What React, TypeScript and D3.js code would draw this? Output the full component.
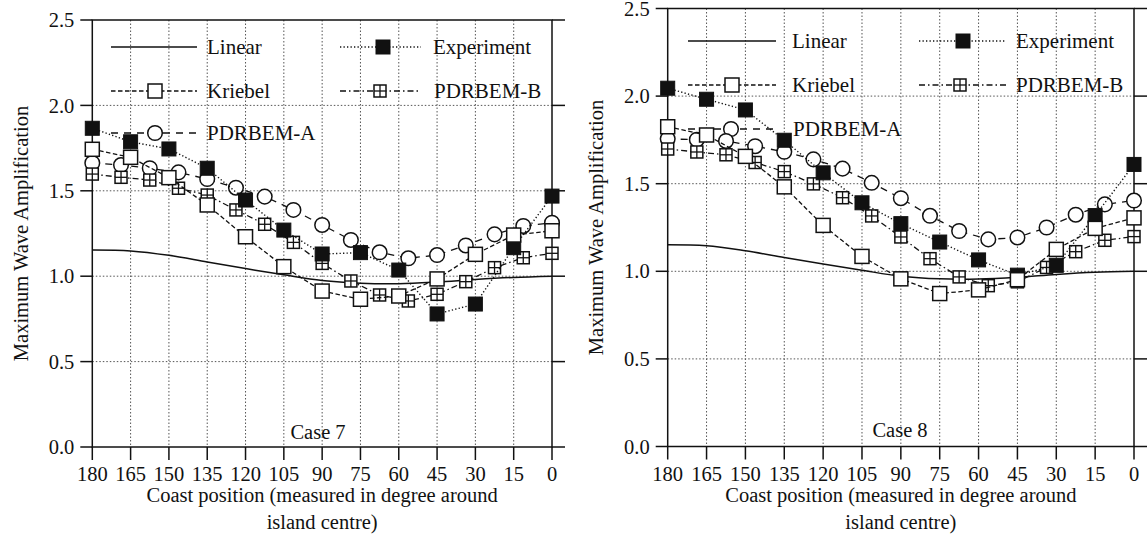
import React from "react";
import * as d3 from "d3";

// Coast positions (degrees around island centre)
const deg15 = [180, 165, 150, 135, 120, 105, 90, 75, 60, 45, 30, 15, 0];
const deg1125 = [180, 168.75, 157.5, 146.25, 135, 123.75, 112.5, 101.25, 90, 78.75, 67.5, 56.25, 45, 33.75, 22.5, 11.25, 0];

const xTicks = [180, 165, 150, 135, 120, 105, 90, 75, 60, 45, 30, 15, 0];
const yTicks = [0, 0.5, 1.0, 1.5, 2.0, 2.5];

// Case 7
const linear7 = [1.153, 1.148, 1.122, 1.083, 1.045, 1.008, 0.975, 0.959, 0.956, 0.966, 0.981, 0.993, 1.0];
const experiment7 = [1.866, 1.787, 1.745, 1.632, 1.446, 1.27, 1.13, 1.138, 1.036, 0.779, 0.837, 1.167, 1.469];
const kriebel7 = [1.743, 1.696, 1.577, 1.417, 1.231, 1.056, 0.913, 0.865, 0.884, 0.984, 1.128, 1.241, 1.266];
const pdrbemA7 = [1.663, 1.651, 1.632, 1.608, 1.569, 1.518, 1.466, 1.388, 1.3, 1.212, 1.14, 1.105, 1.124, 1.18, 1.245, 1.294, 1.313];
const pdrbemB7 = [1.598, 1.579, 1.563, 1.515, 1.475, 1.388, 1.304, 1.198, 1.075, 0.972, 0.89, 0.855, 0.894, 0.968, 1.05, 1.108, 1.134];

// Case 8
const linear8 = [1.152, 1.146, 1.117, 1.079, 1.042, 1.006, 0.972, 0.957, 0.956, 0.966, 0.982, 0.994, 1.0];
const experiment8 = [2.045, 1.982, 1.921, 1.748, 1.562, 1.391, 1.272, 1.167, 1.065, 0.978, 1.034, 1.318, 1.61];
const kriebel8 = [1.825, 1.778, 1.656, 1.482, 1.262, 1.085, 0.957, 0.873, 0.894, 0.952, 1.125, 1.245, 1.305];
const pdrbemA8 = [1.756, 1.751, 1.744, 1.714, 1.682, 1.639, 1.586, 1.505, 1.417, 1.317, 1.23, 1.182, 1.193, 1.25, 1.323, 1.382, 1.404];
const pdrbemB8 = [1.698, 1.681, 1.665, 1.621, 1.569, 1.499, 1.42, 1.316, 1.196, 1.072, 0.968, 0.918, 0.94, 1.022, 1.112, 1.177, 1.198];

const FONT = "'Liberation Serif', 'Times New Roman', serif";
const FS = 20.5;

type MarkerKind = "filled" | "open" | "circle" | "boxplus" | "none";

const STYLES: Record<string, { dash: string; marker: MarkerKind; width: number }> = {
  Linear: { dash: "none", marker: "none", width: 1.5 },
  Experiment: { dash: "1.3,2.2", marker: "filled", width: 1.4 },
  Kriebel: { dash: "4.5,2.5", marker: "open", width: 1.3 },
  "PDRBEM-A": { dash: "7,6", marker: "circle", width: 1.3 },
  "PDRBEM-B": { dash: "6,3,1.5,3", marker: "boxplus", width: 1.3 },
};

function Marker({ kind, x, y }: { kind: MarkerKind; x: number; y: number }) {
  if (kind === "filled") {
    const s = 14;
    return <rect x={x - s / 2} y={y - s / 2} width={s} height={s} fill="#111" stroke="#111" strokeWidth={1} />;
  }
  if (kind === "open") {
    const s = 14;
    return <rect x={x - s / 2} y={y - s / 2} width={s} height={s} fill="#fff" stroke="#111" strokeWidth={1.5} />;
  }
  if (kind === "circle") {
    return <circle cx={x} cy={y} r={7.3} fill="#fff" stroke="#111" strokeWidth={1.5} />;
  }
  if (kind === "boxplus") {
    const s = 12;
    return (
      <g>
        <rect x={x - s / 2} y={y - s / 2} width={s} height={s} fill="#fff" stroke="#111" strokeWidth={1.5} />
        <line x1={x - s / 2} x2={x + s / 2} y1={y} y2={y} stroke="#111" strokeWidth={1.3} />
        <line x1={x} x2={x} y1={y - s / 2} y2={y + s / 2} stroke="#111" strokeWidth={1.3} />
      </g>
    );
  }
  return null;
}

type LegendItem = { name: string; x1: number; x2: number; mx: number; tx: number; y: number };

type PanelProps = {
  left: number;
  right: number;
  top: number;
  bottom: number;
  caseLabel: string;
  caseX: number;
  caseY: number;
  linear: number[];
  experiment: number[];
  kriebel: number[];
  pdrbemA: number[];
  pdrbemB: number[];
  legend: LegendItem[];
  yTitleX: number;
  xTitleY: number;
};

function Panel(p: PanelProps) {
  const x = d3.scaleLinear().domain([180, 0]).range([p.left, p.right]);
  const y = d3.scaleLinear().domain([0, 2.5]).range([p.bottom, p.top]);

  const lineGen = d3
    .line<[number, number]>()
    .x((d) => x(d[0]))
    .y((d) => y(d[1]));
  const smooth = d3
    .line<[number, number]>()
    .x((d) => x(d[0]))
    .y((d) => y(d[1]))
    .curve(d3.curveCatmullRom.alpha(0.5));

  const zip = (xs: number[], vs: number[]) => xs.map((d, i) => [d, vs[i]] as [number, number]);

  const series = [
    { name: "PDRBEM-A", pts: zip(deg1125, p.pdrbemA) },
    { name: "PDRBEM-B", pts: zip(deg1125, p.pdrbemB) },
    { name: "Experiment", pts: zip(deg15, p.experiment) },
    { name: "Kriebel", pts: zip(deg15, p.kriebel) },
  ];

  const gridColor = "#555";
  const cx = (p.left + p.right) / 2;

  return (
    <g>
      {/* grid */}
      {xTicks
        .filter((t) => t !== 180 && t !== 0)
        .map((t) => (
          <line key={"gx" + t} x1={x(t)} x2={x(t)} y1={p.top} y2={p.bottom} stroke={gridColor} strokeWidth={1} strokeDasharray="1.5,2" />
        ))}
      {yTicks
        .filter((t) => t !== 0 && t !== 2.5)
        .map((t) => (
          <line key={"gy" + t} x1={p.left} x2={p.right} y1={y(t)} y2={y(t)} stroke={gridColor} strokeWidth={1} strokeDasharray="1.5,2" />
        ))}

      {/* frame */}
      <rect x={p.left} y={p.top} width={p.right - p.left} height={p.bottom - p.top} fill="none" stroke="#111" strokeWidth={1.5} />

      {/* ticks */}
      {yTicks.map((t) => (
        <g key={"ty" + t}>
          <line x1={p.left - 12} x2={p.left} y1={y(t)} y2={y(t)} stroke="#111" strokeWidth={1.5} />
          <line x1={p.right} x2={p.right + 13} y1={y(t)} y2={y(t)} stroke="#111" strokeWidth={1.5} />
          <text x={p.left - 18} y={y(t)} dy="0.35em" textAnchor="end" fontFamily={FONT} fontSize={FS} fill="#111">
            {t.toFixed(1)}
          </text>
        </g>
      ))}
      {xTicks.map((t) => (
        <g key={"tx" + t}>
          <line x1={x(t)} x2={x(t)} y1={p.bottom} y2={p.bottom + 13} stroke="#111" strokeWidth={1.5} />
          <text x={x(t)} y={p.bottom + 34} textAnchor="middle" fontFamily={FONT} fontSize={FS} fill="#111">
            {t}
          </text>
        </g>
      ))}

      {/* axis titles */}
      <text
        transform={`translate(${p.yTitleX},${(p.top + p.bottom) / 2}) rotate(-90)`}
        textAnchor="middle"
        fontFamily={FONT}
        fontSize={FS}
        fill="#111"
      >
        Maximum Wave Amplification
      </text>
      <text x={cx} y={p.xTitleY} textAnchor="middle" fontFamily={FONT} fontSize={FS} fill="#111">
        Coast position (measured in degree around
      </text>
      <text x={cx} y={p.xTitleY + 27} textAnchor="middle" fontFamily={FONT} fontSize={FS} fill="#111">
        island centre)
      </text>

      <text x={p.caseX} y={p.caseY} textAnchor="middle" fontFamily={FONT} fontSize={FS} fill="#111">
        {p.caseLabel}
      </text>

      {/* legend */}
      {p.legend.map((l) => {
        const st = STYLES[l.name];
        return (
          <g key={"lg" + l.name}>
            <line x1={l.x1} x2={l.x2} y1={l.y} y2={l.y} stroke="#111" strokeWidth={st.width} strokeDasharray={st.dash} />
            <Marker kind={st.marker} x={l.mx} y={l.y} />
            <text x={l.tx} y={l.y} dy="0.33em" fontFamily={FONT} fontSize={21} fill="#111">
              {l.name}
            </text>
          </g>
        );
      })}

      {/* linear theory */}
      <path d={smooth(zip(deg15, p.linear)) || ""} fill="none" stroke="#111" strokeWidth={1.5} />

      {/* data series */}
      {series.map((s) => {
        const st = STYLES[s.name];
        return (
          <g key={s.name}>
            <path d={lineGen(s.pts) || ""} fill="none" stroke="#111" strokeWidth={st.width} strokeDasharray={st.dash} />
            {s.pts.map((d, i) => (
              <Marker key={i} kind={st.marker} x={x(d[0])} y={y(d[1])} />
            ))}
          </g>
        );
      })}
    </g>
  );
}

export default function App() {
  const legendLeft: LegendItem[] = [
    { name: "Linear", x1: 111, x2: 197, mx: 0, tx: 207, y: 47 },
    { name: "Experiment", x1: 340, x2: 421, mx: 383, tx: 433, y: 47 },
    { name: "Kriebel", x1: 111, x2: 197, mx: 155, tx: 207, y: 91 },
    { name: "PDRBEM-B", x1: 340, x2: 421, mx: 380, tx: 434, y: 91 },
    { name: "PDRBEM-A", x1: 111, x2: 197, mx: 155, tx: 207, y: 133 },
  ];
  const legendRight: LegendItem[] = [
    { name: "Linear", x1: 688, x2: 776, mx: 0, tx: 792, y: 41 },
    { name: "Experiment", x1: 919, x2: 1006, mx: 963, tx: 1016, y: 41 },
    { name: "Kriebel", x1: 688, x2: 776, mx: 732, tx: 792, y: 85 },
    { name: "PDRBEM-B", x1: 919, x2: 1006, mx: 960, tx: 1016, y: 85 },
    { name: "PDRBEM-A", x1: 688, x2: 776, mx: 731, tx: 793, y: 129 },
  ];

  return (
    <svg
      width={1147}
      height={545}
      viewBox="0 0 1147 545"
      style={{ position: "absolute", left: 0, top: 0, background: "#fff" }}
    >
      <rect width={1147} height={545} fill="#fff" />
      <Panel
        left={92.3}
        right={552}
        top={20}
        bottom={447}
        caseLabel="Case 7"
        caseX={318}
        caseY={439}
        linear={linear7}
        experiment={experiment7}
        kriebel={kriebel7}
        pdrbemA={pdrbemA7}
        pdrbemB={pdrbemB7}
        legend={legendLeft}
        yTitleX={28}
        xTitleY={502}
      />
      <Panel
        left={667.7}
        right={1134}
        top={8.5}
        bottom={446.5}
        caseLabel="Case 8"
        caseX={900}
        caseY={437}
        linear={linear8}
        experiment={experiment8}
        kriebel={kriebel8}
        pdrbemA={pdrbemA8}
        pdrbemB={pdrbemB8}
        legend={legendRight}
        yTitleX={603}
        xTitleY={502}
      />
    </svg>
  );
}
